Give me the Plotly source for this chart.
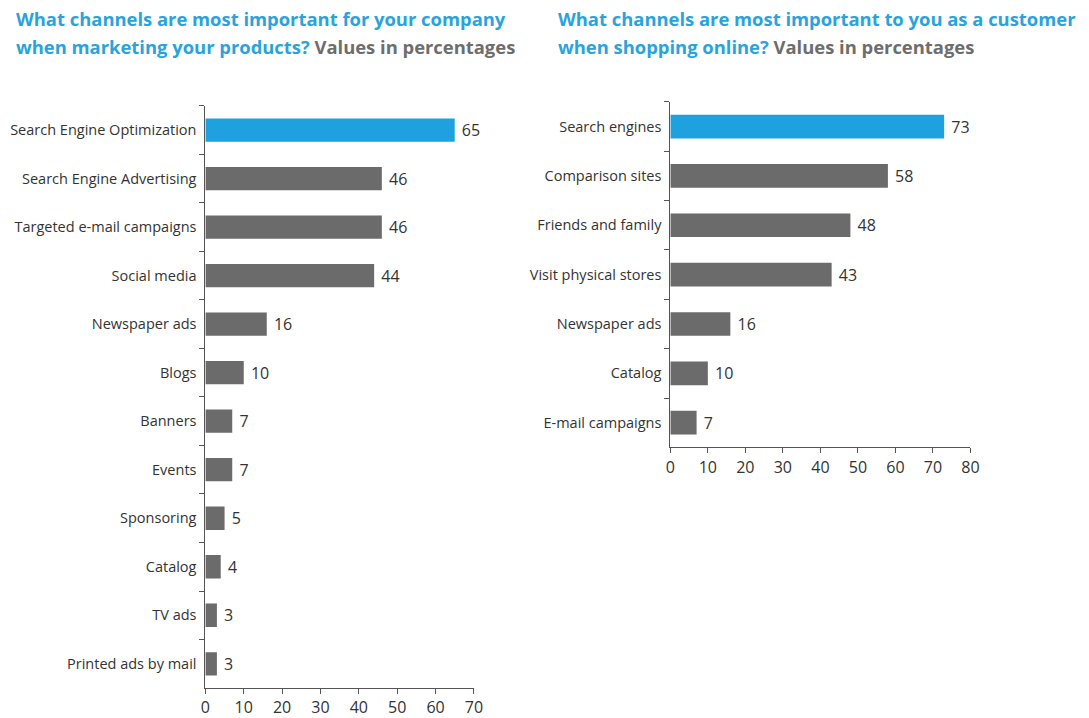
import plotly.graph_objects as go

# Survey results: companies (marketing channels) and customers (shopping channels)
company_channels = [
    "Search Engine Optimization", "Search Engine Advertising", "Targeted e-mail campaigns",
    "Social media", "Newspaper ads", "Blogs", "Banners", "Events", "Sponsoring",
    "Catalog", "TV ads", "Printed ads by mail",
]
company_values = [65, 46, 46, 44, 16, 10, 7, 7, 5, 4, 3, 3]

customer_channels = [
    "Search engines", "Comparison sites", "Friends and family", "Visit physical stores",
    "Newspaper ads", "Catalog", "E-mail campaigns",
]
customer_values = [73, 58, 48, 43, 16, 10, 7]

left_ticks = [0, 10, 20, 30, 40, 50, 60, 70]
right_ticks = [0, 10, 20, 30, 40, 50, 60, 70, 80]

BLUE = "#1ea1de"
TITLE_BLUE = "#2aa3dd"
TITLE_GREY = "#6d6d6d"
GREY = "#6b6b6b"
TEXT = "#333333"
AXIS = "#555555"
FONT = "Open Sans"
W, H = 1089, 718


def bar_colors(n):
    return [BLUE] + [GREY] * (n - 1)


def value_labels(values):
    # non-breaking space pads the label away from the bar end
    return ["\u00a0" + str(v) for v in values]


fig = go.Figure()
fig.add_trace(go.Bar(
    x=company_values, y=company_channels, orientation="h",
    marker=dict(color=bar_colors(len(company_values)), line=dict(width=0)),
    text=value_labels(company_values), textposition="outside",
    textfont=dict(size=16, color=TEXT, family=FONT), cliponaxis=False,
    width=0.48, xaxis="x", yaxis="y", hoverinfo="skip",
))
fig.add_trace(go.Bar(
    x=customer_values, y=customer_channels, orientation="h",
    marker=dict(color=bar_colors(len(customer_values)), line=dict(width=0)),
    text=value_labels(customer_values), textposition="outside",
    textfont=dict(size=16, color=TEXT, family=FONT), cliponaxis=False,
    width=0.48, xaxis="x2", yaxis="y2", hoverinfo="skip",
))

common_x = dict(
    showgrid=False, zeroline=False, showline=True, linecolor=AXIS, linewidth=1,
    ticks="outside", ticklen=5, tickcolor=AXIS, ticklabelstandoff=0,
    tickfont=dict(size=16, color=TEXT, family=FONT), fixedrange=True,
)
common_y = dict(
    type="category", autorange="reversed", showgrid=False, zeroline=False,
    showline=True, linecolor=AXIS, linewidth=1, ticks="outside", ticklen=5,
    tickcolor=AXIS, tickson="boundaries", ticklabelstandoff=5,
    tickfont=dict(size=14.5, color=TEXT, family=FONT), fixedrange=True,
)

fig.update_layout(
    width=W, height=H, autosize=False,
    margin=dict(l=0, r=0, t=0, b=0),
    paper_bgcolor="white", plot_bgcolor="white",
    showlegend=False,
    font=dict(family=FONT, color=TEXT),
    xaxis=dict(domain=[203 / W, 475 / W], range=[0, 70], tickvals=left_ticks,
               anchor="y", **common_x),
    yaxis=dict(domain=[1 - 689 / H, 1 - 106 / H], anchor="x", **common_y),
    xaxis2=dict(domain=[674 / W, 978 / W], range=[0, 80], tickvals=right_ticks,
                anchor="y2", **common_x),
    yaxis2=dict(domain=[1 - 448 / H, 1 - 102 / H], anchor="x2", **common_y),
)

titles = [
    (9, "What channels are most important for your company",
     "when marketing your products?"),
    (558, "What channels are most important to you as a customer",
     "when shopping online?"),
]
for x0, line1, line2 in titles:
    fig.add_annotation(
        x=x0 / W, y=1 - 19 / H, xref="paper", yref="paper",
        xanchor="left", yanchor="middle", align="left", showarrow=False,
        text=f"<b>{line1}</b>", font=dict(size=18.4, family=FONT, color=TITLE_BLUE),
    )
    fig.add_annotation(
        x=x0 / W, y=1 - 47 / H, xref="paper", yref="paper",
        xanchor="left", yanchor="middle", align="left", showarrow=False,
        text=(f"<b><span style='color:{TITLE_BLUE}'>{line2}</span> "
              f"<span style='color:{TITLE_GREY}'>Values in percentages</span></b>"),
        font=dict(size=18.4, family=FONT, color=TITLE_BLUE),
    )

fig.write_html("out.html", config={"displayModeBar": False})
